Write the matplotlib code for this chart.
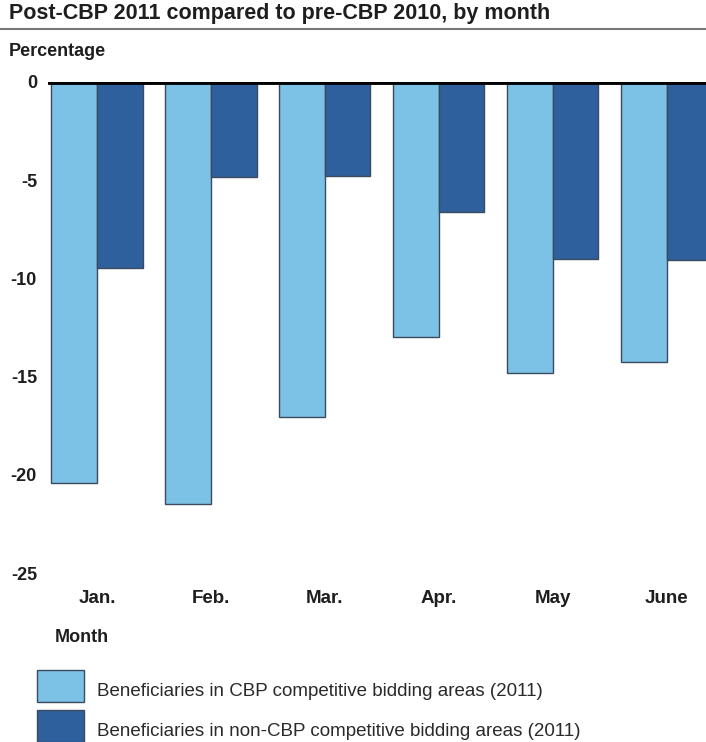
import matplotlib
matplotlib.use("Agg")
import matplotlib.pyplot as plt
import numpy as np
from matplotlib.patches import Rectangle

plt.rcParams['font.family'] = ['Liberation Sans', 'DejaVu Sans']

months = ["Jan.", "Feb.", "Mar.", "Apr.", "May", "June"]
cbp_areas = [-20.4, -21.5, -17.05, -13.0, -14.8, -14.25]
non_cbp_areas = [-9.45, -4.85, -4.8, -6.6, -9.0, -9.05]
yticks = [0, -5, -10, -15, -20, -25]
series_labels = ["Beneficiaries in CBP competitive bidding areas (2011)",
                 "Beneficiaries in non-CBP competitive bidding areas (2011)"]

light = "#7cc1e6"
dark = "#2f609e"
edge = "#3b4a5c"
txt = "#1e1e1e"

W, H = 706, 742
fig = plt.figure(figsize=(W / 100, H / 100), dpi=100)

def px(x, y):
    return x / W, 1 - y / H

# plot area in pixel coordinates
left, right, top, bottom = 48, 706, 82, 573
ax = fig.add_axes([left / W, 1 - bottom / H, (right - left) / W, (bottom - top) / H])

x = np.arange(len(months))
w = 0.40
ax.bar(x - w / 2, cbp_areas, width=w, color=light, edgecolor=edge, linewidth=1.0)
ax.bar(x + w / 2, non_cbp_areas, width=w, color=dark, edgecolor=edge, linewidth=1.0)
ax.axhline(0, color="black", linewidth=3.5, zorder=5)

ax.set_xlim(-0.43, 5.345)
ax.set_ylim(-25, 0)
ax.set_yticks(yticks)
ax.set_yticklabels([str(t) for t in yticks], fontsize=13, fontweight="bold", color=txt)
ax.set_xticks(x)
ax.set_xticklabels(months, fontsize=13.5, fontweight="bold", color=txt)
ax.tick_params(axis="both", length=0)
ax.tick_params(axis="y", pad=8)
ax.tick_params(axis="x", pad=12)
for s in ax.spines.values():
    s.set_visible(False)

# title and rule beneath it
fig.text(*px(9, 14), "Post-CBP 2011 compared to pre-CBP 2010, by month",
         fontsize=15.5, fontweight="bold", va="center", ha="left", color=txt)
fig.add_artist(plt.Line2D([0, 1], [1 - 29 / H, 1 - 29 / H], color="#777777", linewidth=1.5))

fig.text(*px(9, 52), "Percentage", fontsize=13, fontweight="bold", va="center", ha="left", color=txt)
fig.text(*px(55, 637), "Month", fontsize=13, fontweight="bold", va="center", ha="left", color=txt)

# legend
for i, (c, lab) in enumerate(zip([light, dark], series_labels)):
    y0 = 670 + i * 40
    fig.add_artist(Rectangle(px(37, y0 + 32), 47 / W, 32 / H, facecolor=c,
                             edgecolor=edge, linewidth=1.0, transform=fig.transFigure))
    fig.text(*px(97, y0 + 21), lab, fontsize=13.5, va="center", ha="left", color="#2a2a2a")

fig.savefig("out.png", dpi=100)
